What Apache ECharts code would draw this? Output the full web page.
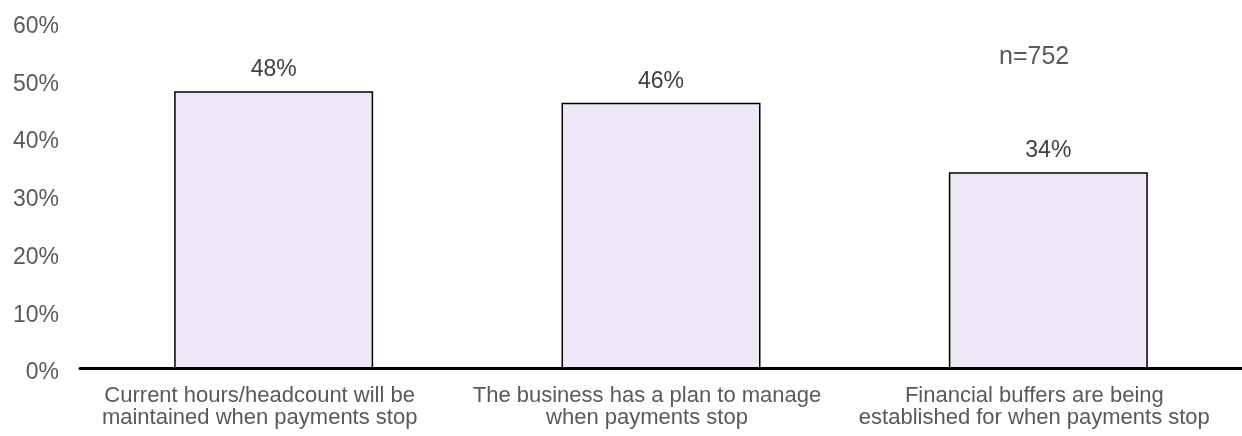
<!DOCTYPE html>
<html>
<head>
<meta charset="utf-8">
<script src="https://cdn.jsdelivr.net/npm/echarts@6/dist/echarts.min.js"></script>
<style>
  html, body { margin: 0; padding: 0; background: #fff; }
  #chart { width: 1242px; height: 436px; }
</style>
</head>
<body>
<div id="chart"></div>
<script>
// Share of businesses agreeing with each statement
const categories = [
  'Current hours/headcount will be\nmaintained when payments stop',
  'The business has a plan to manage\nwhen payments stop',
  'Financial buffers are being\nestablished for when payments stop'
];
const values = [48, 46, 34];
const yTicks = { min: 0, max: 60, interval: 10 };
const sampleNote = 'n=752';

const FONT = 'Liberation Sans, Arial, sans-serif';
const chart = echarts.init(document.getElementById('chart'));
chart.setOption({
  animation: false,
  textStyle: { fontFamily: FONT },
  graphic: [{
    type: 'text',
    x: 999,
    y: 57,
    style: {
      text: sampleNote, fontSize: 25, fill: '#595959', fontFamily: FONT,
      textVerticalAlign: 'middle'
    }
  }],
  grid: { left: 80, width: 1165, top: 22, height: 346.5, containLabel: false },
  xAxis: {
    type: 'category',
    data: categories,
    axisLine: { show: true, lineStyle: { color: '#000', width: 3 } },
    axisTick: { show: false },
    axisLabel: {
      interval: 0,
      color: '#595959',
      fontSize: 22,
      lineHeight: 22,
      margin: 16,
      padding: [0, 28, 0, 0]
    }
  },
  yAxis: {
    type: 'value',
    min: yTicks.min,
    max: yTicks.max,
    interval: yTicks.interval,
    axisLine: { show: false },
    axisTick: { show: false },
    splitLine: { show: false },
    axisLabel: {
      color: '#595959',
      fontSize: 23,
      margin: 21,
      verticalAlign: 'top',
      lineHeight: 9,
      formatter: v => v + '%'
    }
  },
  series: [{
    type: 'bar',
    data: values,
    barWidth: 199,
    itemStyle: { color: '#EDE7F6', borderColor: '#000', borderWidth: 1.5 },
    label: {
      show: true,
      position: 'top',
      distance: 10,
      color: '#404040',
      fontSize: 23,
      formatter: p => p.value + '%'
    }
  }]
});
</script>
</body>
</html>
